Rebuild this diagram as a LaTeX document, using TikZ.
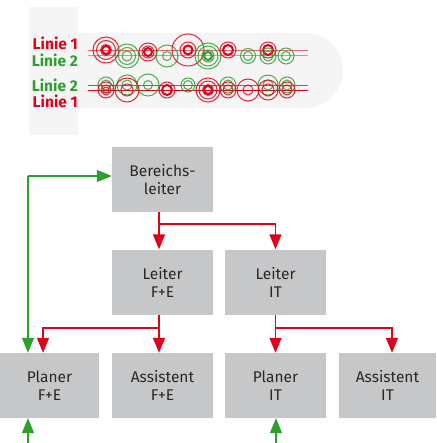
\documentclass[tikz,border=0pt]{standalone}
\usepackage{fontspec}
\setmainfont{Fira Sans}
\usetikzlibrary{arrows.meta}
\definecolor{lred}{RGB}{226,0,26}
\definecolor{lgreen}{RGB}{44,160,44}
\definecolor{boxgray}{RGB}{198,199,201}
\definecolor{bggray}{RGB}{245,245,245}
\definecolor{txtgray}{RGB}{40,40,40}
\tikzset{
  orgbox/.style={fill=boxgray,text=txtgray,minimum width=101pt,minimum height=65pt,
    inner sep=0pt,align=center,font=\fontsize{15.5}{18}\selectfont},
  lab/.style={anchor=east,inner sep=0pt,font=\fontsize{15.5}{16}\selectfont\bfseries},
  rarr/.style={lred,line width=1.4pt,-{Triangle[length=15pt,width=12pt]}},
  garr/.style={lgreen,line width=1.4pt,-{Triangle[length=15pt,width=12pt]}}
}
\begin{document}
\begin{tikzpicture}[x=1pt,y=-1pt]
    \useasboundingbox (0,0) rectangle (436,443);
    % lines
    \fill[bggray,rounded corners=37.5pt] (29,33) rectangle (343,108);
    \fill[bggray] (29,7) rectangle (78,135);
    \node[lab,text=lred] (t1) at (78,43) {Linie 1};
    \node[lab,text=lgreen] (t2) at (78,60) {Linie 2};
    \node[lab,text=lgreen] (t3) at (78,85) {Linie 2};
    \node[lab,text=lred] (t4) at (78,101) {Linie 1};
    \draw[lred,opacity=0.6,line width=1.6pt] (88,50.5) -- (308,50.5);
    \draw[lgreen,opacity=0.6,line width=1.6pt] (88,55.5) -- (308,55.5);
    \draw[lgreen,line width=1.3pt] (88,85.7) -- (308,85.7);
    \draw[lred,line width=1.3pt] (88,90.7) -- (308,90.7);
    \foreach \x/\y/\radii/\col/\w in {106/50/{13,9.5,5.5}/lred/4, 127/56/{12,8.5,5}/lgreen/0,
        148/52/{9,6}/lred/4, 167/56/{11,4.5}/lgreen/0, 188/50/{16,8}/lred/4.5, 208/56/{13,10,6}/lgreen/4,
        228/50/{8}/lred/5, 248/56/{7.5,4.5}/lgreen/0, 268/50/{8}/lred/5, 268/56/{8,5}/lgreen/0,
        286/56/{8,4.5}/lgreen/0,
        106/85/{8,5}/lgreen/0, 106/90/{8,5,3}/lred/0, 127/85/{10,5}/lgreen/0, 127/90/{12,6}/lred/0,
        148/85/{11,4.5}/lgreen/0, 167/90/{8}/lred/5, 188/85/{7,4.5}/lgreen/0, 208/90/{12,9,5.5}/lred/4,
        228/85/{8,5}/lgreen/0, 228/90/{8,5}/lred/0, 248/90/{11,5}/lred/0, 268/85/{10,5}/lgreen/0,
        268/90/{10,6}/lred/0, 287/85/{8,5}/lgreen/0, 287/90/{8,5}/lred/0}{
      \foreach \r in \radii {\draw[\col,opacity=0.85,line width=1pt] (\x,\y) circle (\r);}
      \ifdim\w pt>0pt \draw[\col,line width=2pt] (\x,\y) circle (\w); \fi};
    % org chart
    \node[orgbox] (bl) at (162.5,179.5) {Bereichs-\\leiter};
    \node[orgbox] (lfe) at (162.5,282) {Leiter\\F+E};
    \node[orgbox] (lit) at (275.5,282) {Leiter\\IT};
    \node[orgbox,minimum width=99pt] (pfe) at (49.5,385.5) {Planer\\F+E};
    \node[orgbox] (afe) at (162.5,385.5) {Assistent\\F+E};
    \node[orgbox] (pit) at (275.5,385.5) {Planer\\IT};
    \node[orgbox,minimum width=97pt] (ait) at (387.5,385.5) {Assistent\\IT};
    \coordinate (j1) at (159,224); \coordinate (j2) at (159,328); \coordinate (j3) at (275.5,328);
    \coordinate (g1) at (28,176); \coordinate (in1) at (28,445); \coordinate (in2) at (276,445);
    \draw[rarr] (bl.south -| j1) -- (lfe.north -| j1);
    \draw[rarr] (j1) -| (lit.north);
    \draw[rarr] (lfe.south -| j2) -- (afe.north -| j2);
    \draw[rarr] (j2) -| ([xshift=-6.5pt]pfe.north);
    \draw[rarr] (lit.south) -- (pit.north);
    \draw[rarr] (j3) -| ([xshift=4.5pt]ait.north);
    \draw[garr] (g1) -- (pfe.north -| g1);
    \draw[garr] (g1) -- (bl.west |- g1);
    \draw[garr] (in1) -- (pfe.south -| in1);
    \draw[garr] (in2) -- (pit.south -| in2);
  \end{tikzpicture}
\end{document}
